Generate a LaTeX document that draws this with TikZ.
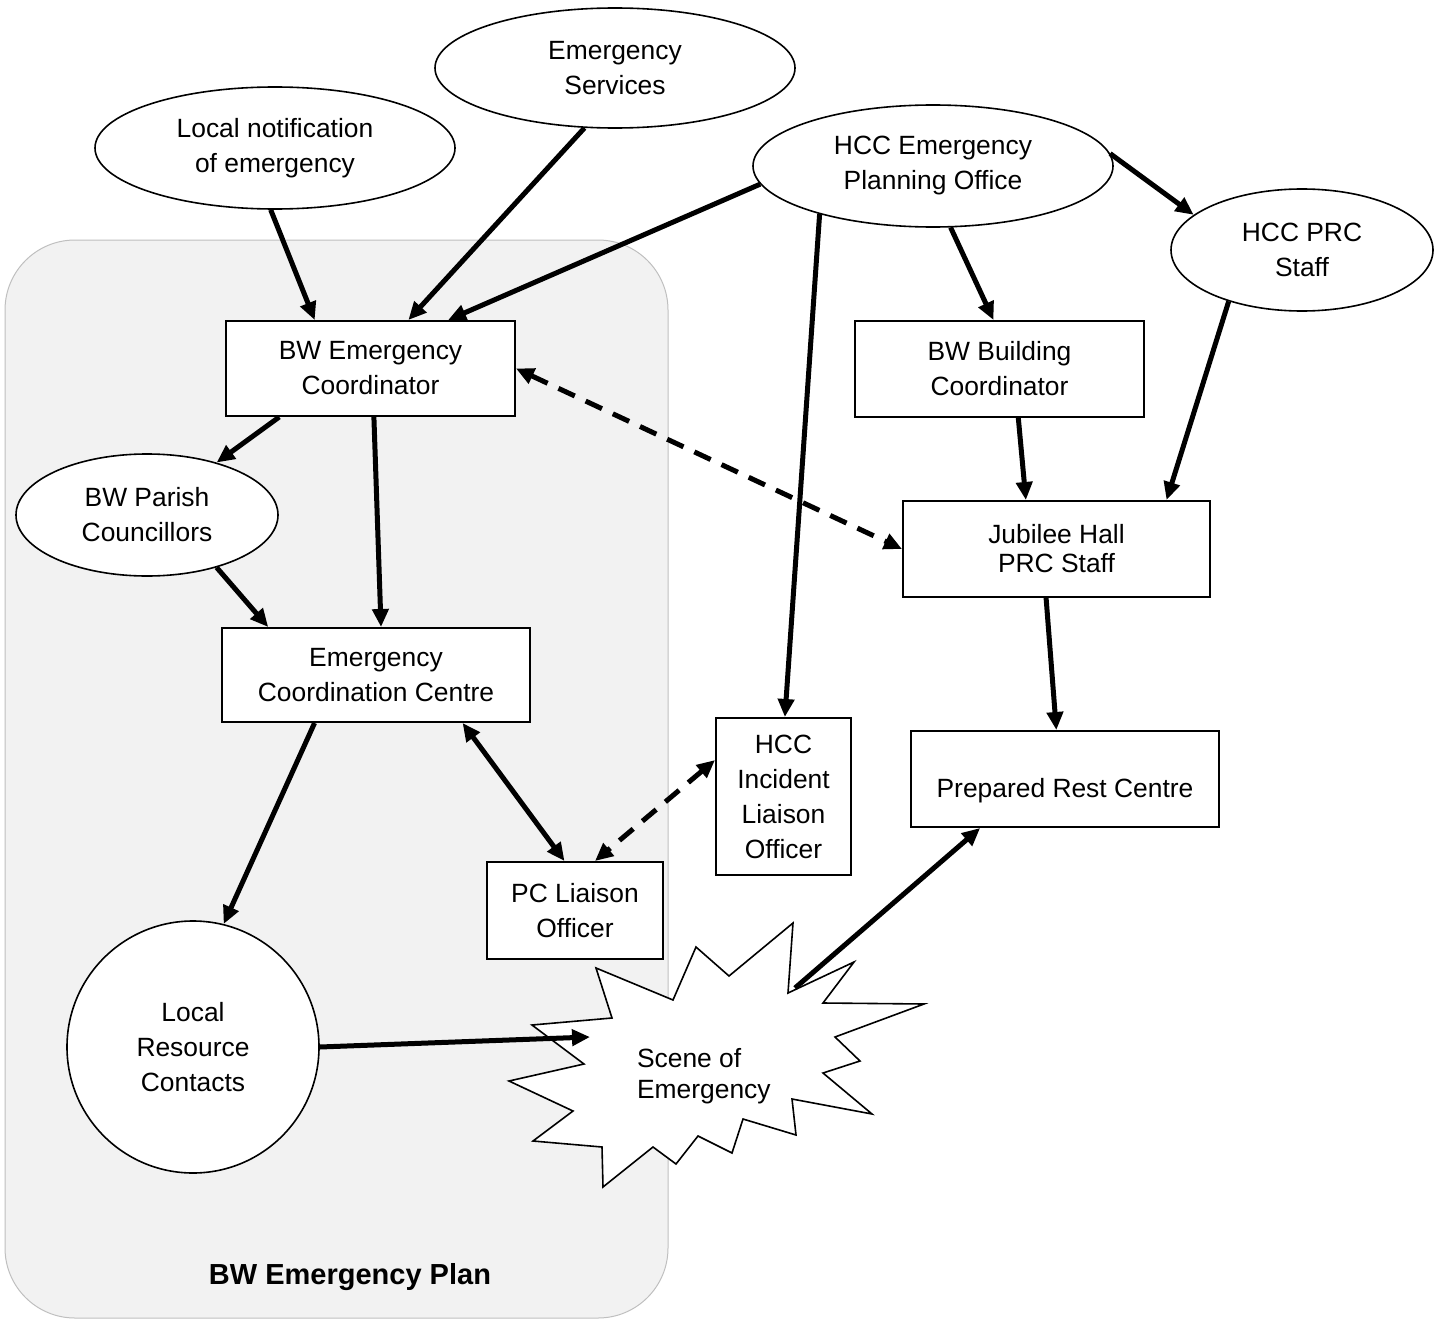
\documentclass[tikz,border=0pt]{standalone}
\usepackage{fontspec}
\setmainfont{Liberation Sans}
\usetikzlibrary{arrows.meta,shapes.geometric}

\begin{document}
\begin{tikzpicture}[x=0.5pt,y=-0.5pt,
  font=\fontsize{13.2}{17.5}\selectfont,
  oval/.style={draw,ellipse,line width=0.8pt,fill=white,inner sep=0pt,align=center},
  box/.style={draw,rectangle,line width=1pt,fill=white,inner sep=0pt,align=center},
  link/.style={line width=2.5pt,-{Triangle[length=9pt,width=8pt]}},
  twoway/.style={line width=2.5pt,{Triangle[length=9pt,width=8pt]}-{Triangle[length=9pt,width=8pt]}},
  dashlink/.style={twoway,dash pattern=on 9pt off 6pt}]
\useasboundingbox (0,0) rectangle (1435,1322);
\draw[fill=black!5,draw=black!25,line width=0.5pt,rounded corners=35pt] (5,240) rectangle (668,1318);
\node[font=\fontsize{14.5}{17.5}\selectfont\bfseries] (plan) at (350,1277) {BW Emergency Plan};

\node[oval,minimum width=180pt,minimum height=61pt] (notif) at (275,148) {Local notification\\of emergency};
\node[oval,minimum width=180pt,minimum height=60pt] (services) at (615,68) {Emergency\\Services};
\node[oval,minimum width=180pt,minimum height=61pt] (hccepo) at (933,166) {HCC Emergency\\Planning Office};
\node[oval,minimum width=131pt,minimum height=61pt] (hccprc) at (1302,250) {HCC PRC\\Staff};
\node[oval,minimum width=131pt,minimum height=61pt] (parish) at (147,515) {BW Parish\\Councillors};
\node[box,minimum width=144.5pt,minimum height=47.5pt] (bwec) at (370.5,368.5) {BW Emergency\\Coordinator};
\node[box,minimum width=144.5pt,minimum height=48pt] (bwbc) at (999.5,369) {BW Building\\Coordinator};
\node[box,minimum width=153.5pt,minimum height=48pt] (jubilee) at (1056.5,549) {Jubilee Hall\\[-3pt]PRC Staff};
\node[box,minimum width=154pt,minimum height=47pt] (ecc) at (376,675) {Emergency\\Coordination Centre};
\node[box,minimum width=67.5pt,minimum height=78.5pt] (incident) at (783.5,796.5) {HCC\\Incident\\Liaison\\Officer};
\node[box,minimum width=154pt,minimum height=48pt,text height=21.5pt] (rest) at (1065,779) {Prepared Rest Centre};
\node[box,minimum width=88pt,minimum height=48.5pt] (pcl) at (575,910.5) {PC Liaison\\Officer};
\node[draw,circle,line width=0.8pt,fill=white,minimum size=126pt,inner sep=0pt,align=center] (lrc) at (193,1047) {Local\\Resource\\Contacts};

\draw[line width=0.8pt,fill=white] (596,968) -- (673,1000) -- (696,947) -- (729,976) -- (793,923)
  -- (788,993) -- (854,962) -- (823,1003) -- (924,1004) -- (835,1037) -- (860,1061) -- (823,1073)
  -- (872,1114) -- (792,1099) -- (796,1135) -- (743,1119) -- (732,1153) -- (698,1136) -- (676,1164)
  -- (653,1147) -- (603,1187) -- (602,1147) -- (533,1141) -- (573,1111) -- (509,1081) -- (584,1064)
  -- (532,1025) -- (612,1018) -- cycle;
\node[align=left,anchor=west] (scene) at (630,1076) {Scene of\\[-2pt]Emergency};
\coordinate (scenein) at (590,1037);
\coordinate (sceneout) at (795,988);

\draw[link] (notif.266) -- (bwec.139);
\draw[link] (services.243) -- (bwec.52);
\draw[link] (hccepo.186) -- (bwec.32);
\draw[link] (hccepo.4) -- (hccprc.162);
\draw[link] (hccepo.286) -- (bwbc.97);
\draw[link] (hccepo.203) -- (incident.89);
\draw[link] (hccprc.215) -- (jubilee.24);
\draw[link] (bwbc.291) -- (jubilee.122);
\draw[dashlink] (bwec.east) -- (jubilee.west);
\draw[link] (bwec.208) -- (parish.37);
\draw[link] (bwec.274) -- (ecc.84);
\draw[link] (parish.323) -- (ecc.156);
\draw[link] (ecc.218) -- (lrc.76);
\draw[twoway] (ecc.331) -- (pcl.102);
\draw[dashlink] (incident.152) -- (pcl.68);
\draw[link] (jubilee.258) -- (rest.100);
\draw[link] (lrc.east) -- (scenein);
\draw[link] (sceneout) -- (rest.210);
\end{tikzpicture}
\end{document}
